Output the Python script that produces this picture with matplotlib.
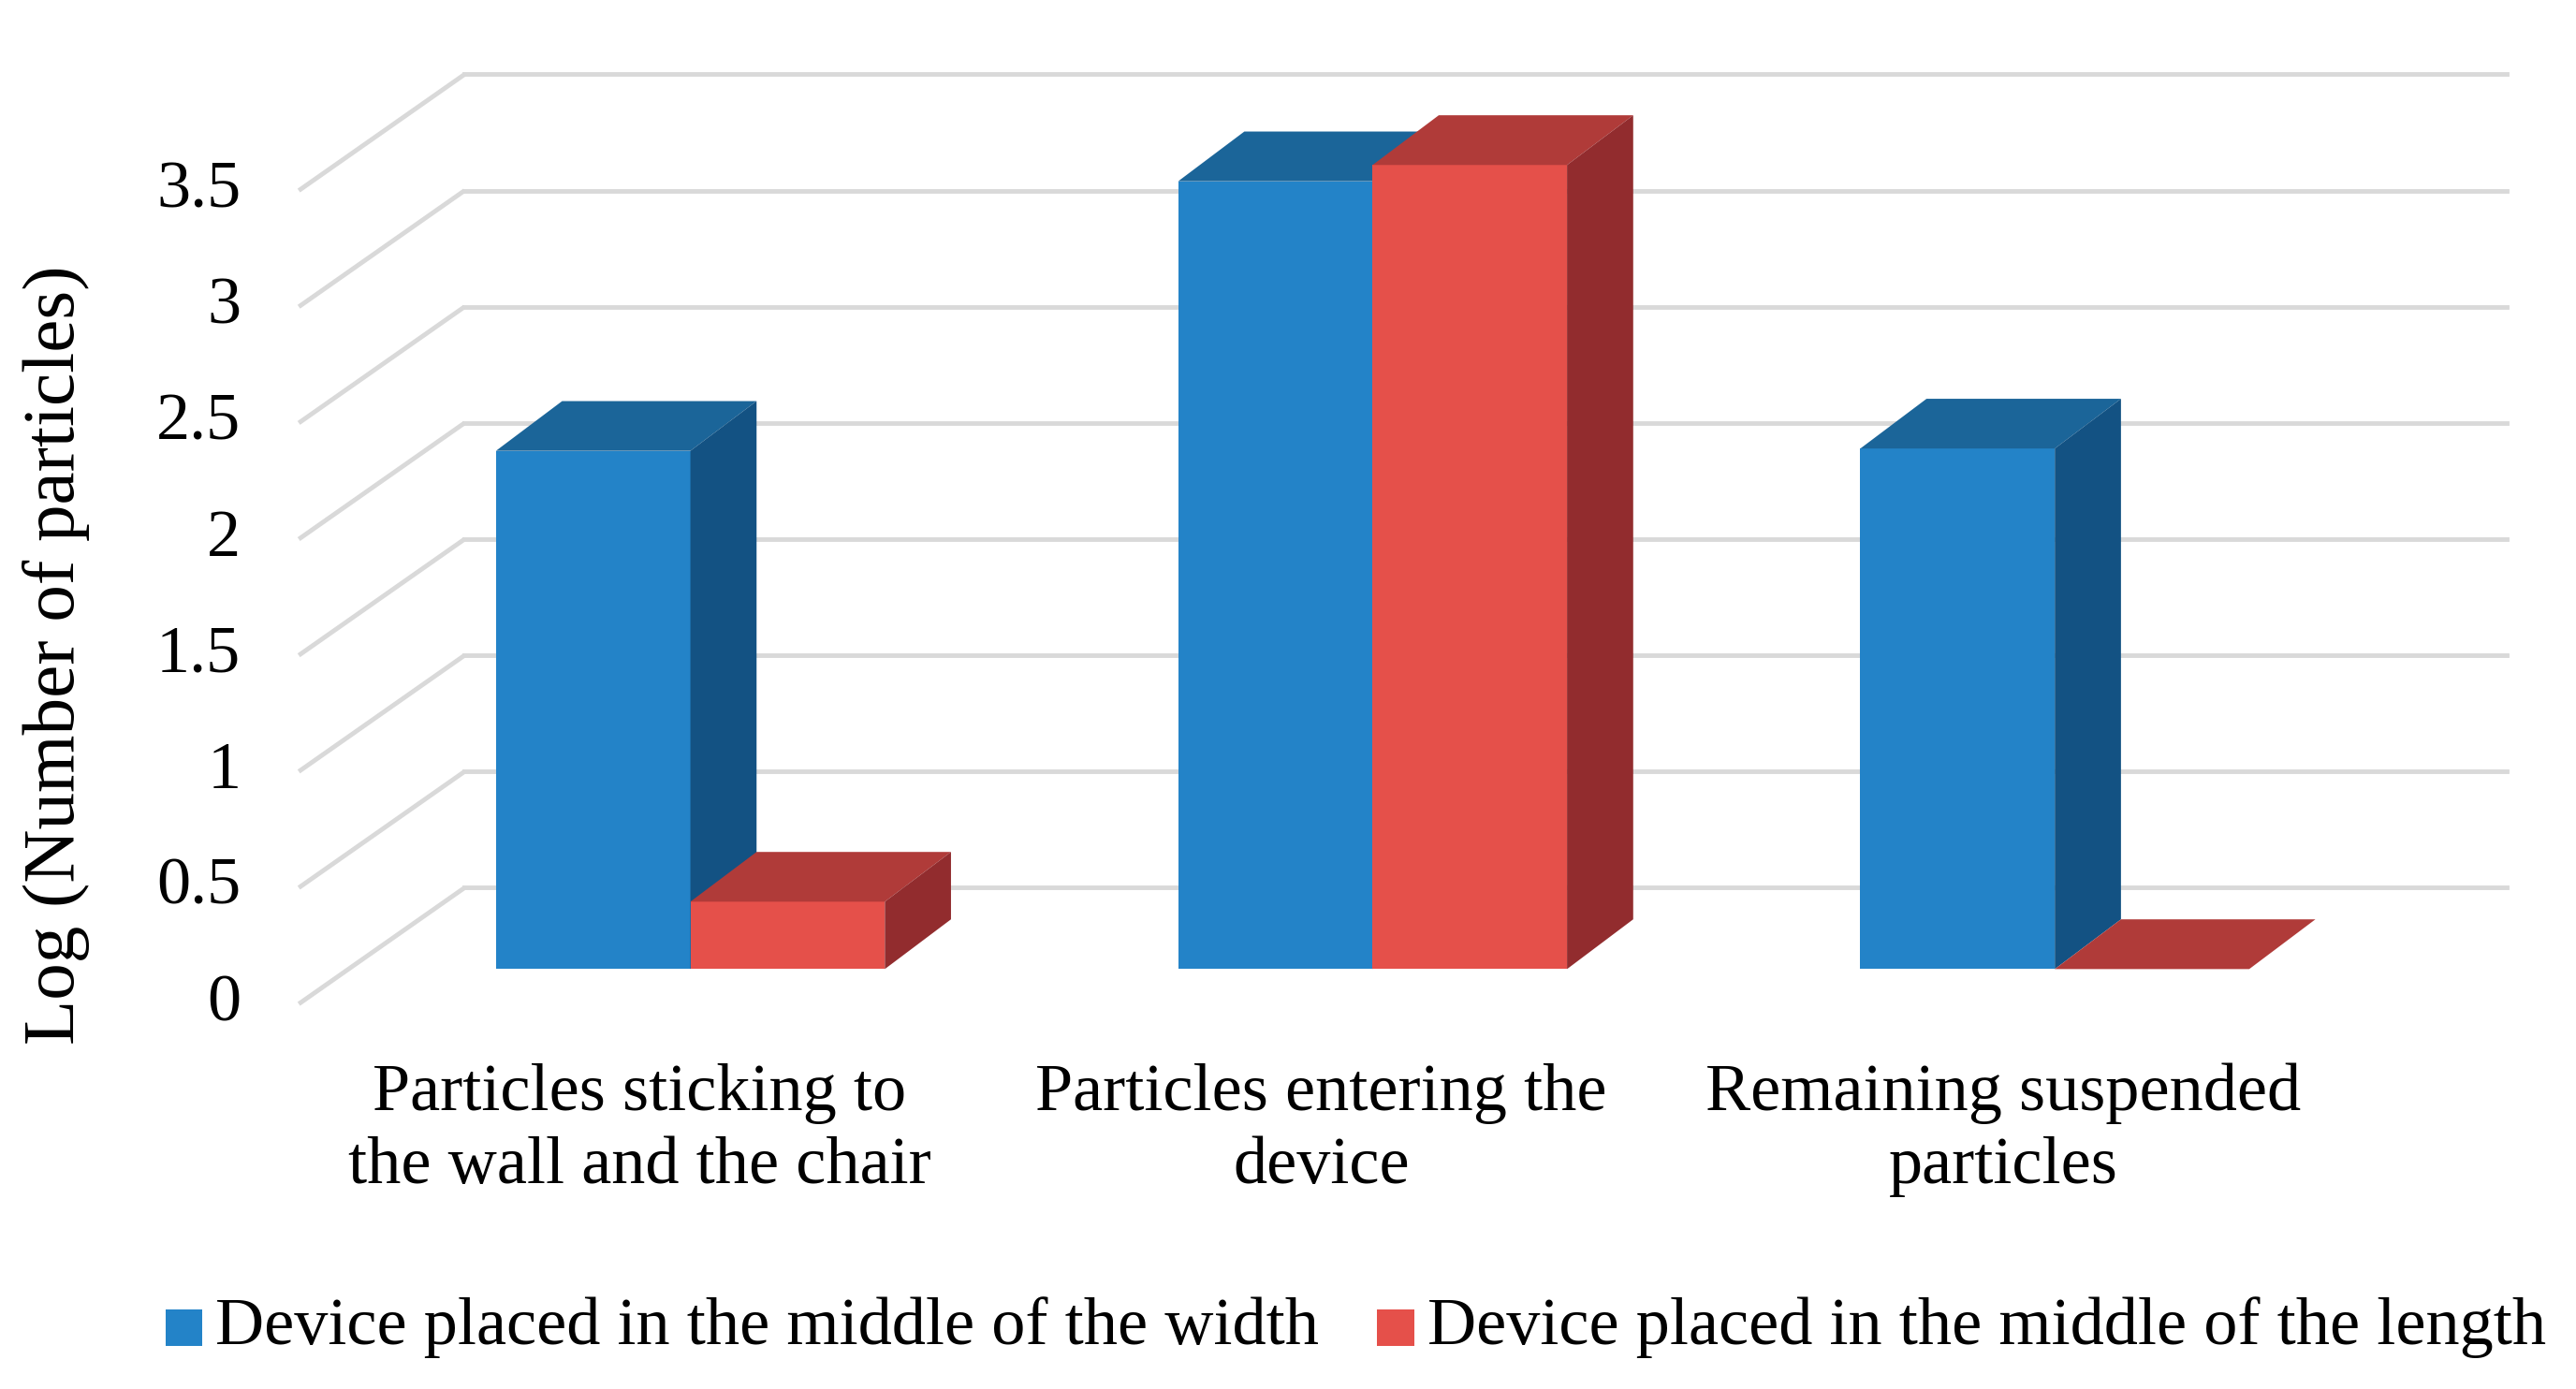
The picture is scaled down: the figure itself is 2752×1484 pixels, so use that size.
import matplotlib
matplotlib.use("Agg")
import matplotlib.pyplot as plt
from matplotlib.patches import Polygon

categories = ["Particles sticking to\nthe wall and the chair", "Particles entering the\ndevice", "Remaining suspended\nparticles"]
series_names = ["Device placed in the middle of the width", "Device placed in the middle of the length"]
width_vals = [2.23, 3.39, 2.24]
length_vals = [0.29, 3.46, 0.0]
yticks = [0, 0.5, 1, 1.5, 2, 2.5, 3, 3.5]
ytick_labels = ["0", "0.5", "1", "1.5", "2", "2.5", "3", "3.5"]

front_cols = ["#2383C8", "#E5504A"]
top_cols = ["#1B6599", "#B03B39"]
side_cols = ["#135283", "#922C2E"]

plt.rcParams['font.family'] = ['Liberation Serif', 'DejaVu Serif']
fig = plt.figure(figsize=(27.52, 14.84), dpi=100)
ax = fig.add_axes([0, 0, 1, 1])
ax.set_xlim(-1.012, 2.764)
ax.set_ylim(-1.657, 4.32)
ax.axis('off')

FX = -0.574
DX, DY = 0.243, 0.5
XR = 2.662
gc = "#D9D9D9"
for v, lab in zip(yticks, ytick_labels):
    ax.plot([FX, FX + DX], [v, v + DY], color=gc, lw=3.5, zorder=1, solid_capstyle='butt')
    ax.plot([FX + DX, XR], [v + DY, v + DY], color=gc, lw=3.5, zorder=1)
    ax.text(FX - 0.085, v, lab, ha='right', va='center', fontsize=52)

bw = 0.285
b0 = 0.15
tdx, tdy = 0.097, 0.214
for i in range(len(categories)):
    for s, vals in enumerate([width_vals, length_vals]):
        x0 = i - bw + s * bw
        x1 = x0 + bw
        h = b0 + vals[i]
        ax.add_patch(Polygon([(x0, b0), (x1, b0), (x1, h), (x0, h)], closed=True, fc=front_cols[s], ec='none', zorder=3))
        ax.add_patch(Polygon([(x0, h), (x1, h), (x1 + tdx, h + tdy), (x0 + tdx, h + tdy)], closed=True, fc=top_cols[s], ec='none', zorder=3))
        ax.add_patch(Polygon([(x1, b0), (x1 + tdx, b0 + tdy), (x1 + tdx, h + tdy), (x1, h)], closed=True, fc=side_cols[s], ec='none', zorder=3))
    ax.text(i - 0.075, -0.543, categories[i], ha='center', va='center', fontsize=52, linespacing=1.25)

ax.text(-0.93, 1.5, "Log (Number of particles)", rotation=90, ha='center', va='center', fontsize=57)

ly = -1.393
for s, (xs, xt) in enumerate([(-0.769, -0.696), (1.007, 1.080)]):
    ax.add_patch(Polygon([(xs, ly - 0.08), (xs + 0.054, ly - 0.08), (xs + 0.054, ly + 0.08), (xs, ly + 0.08)], closed=True, fc=front_cols[s], ec='none'))
    ax.text(xt, ly, series_names[s], ha='left', va='center', fontsize=52)

fig.savefig("out.png", dpi=100)
